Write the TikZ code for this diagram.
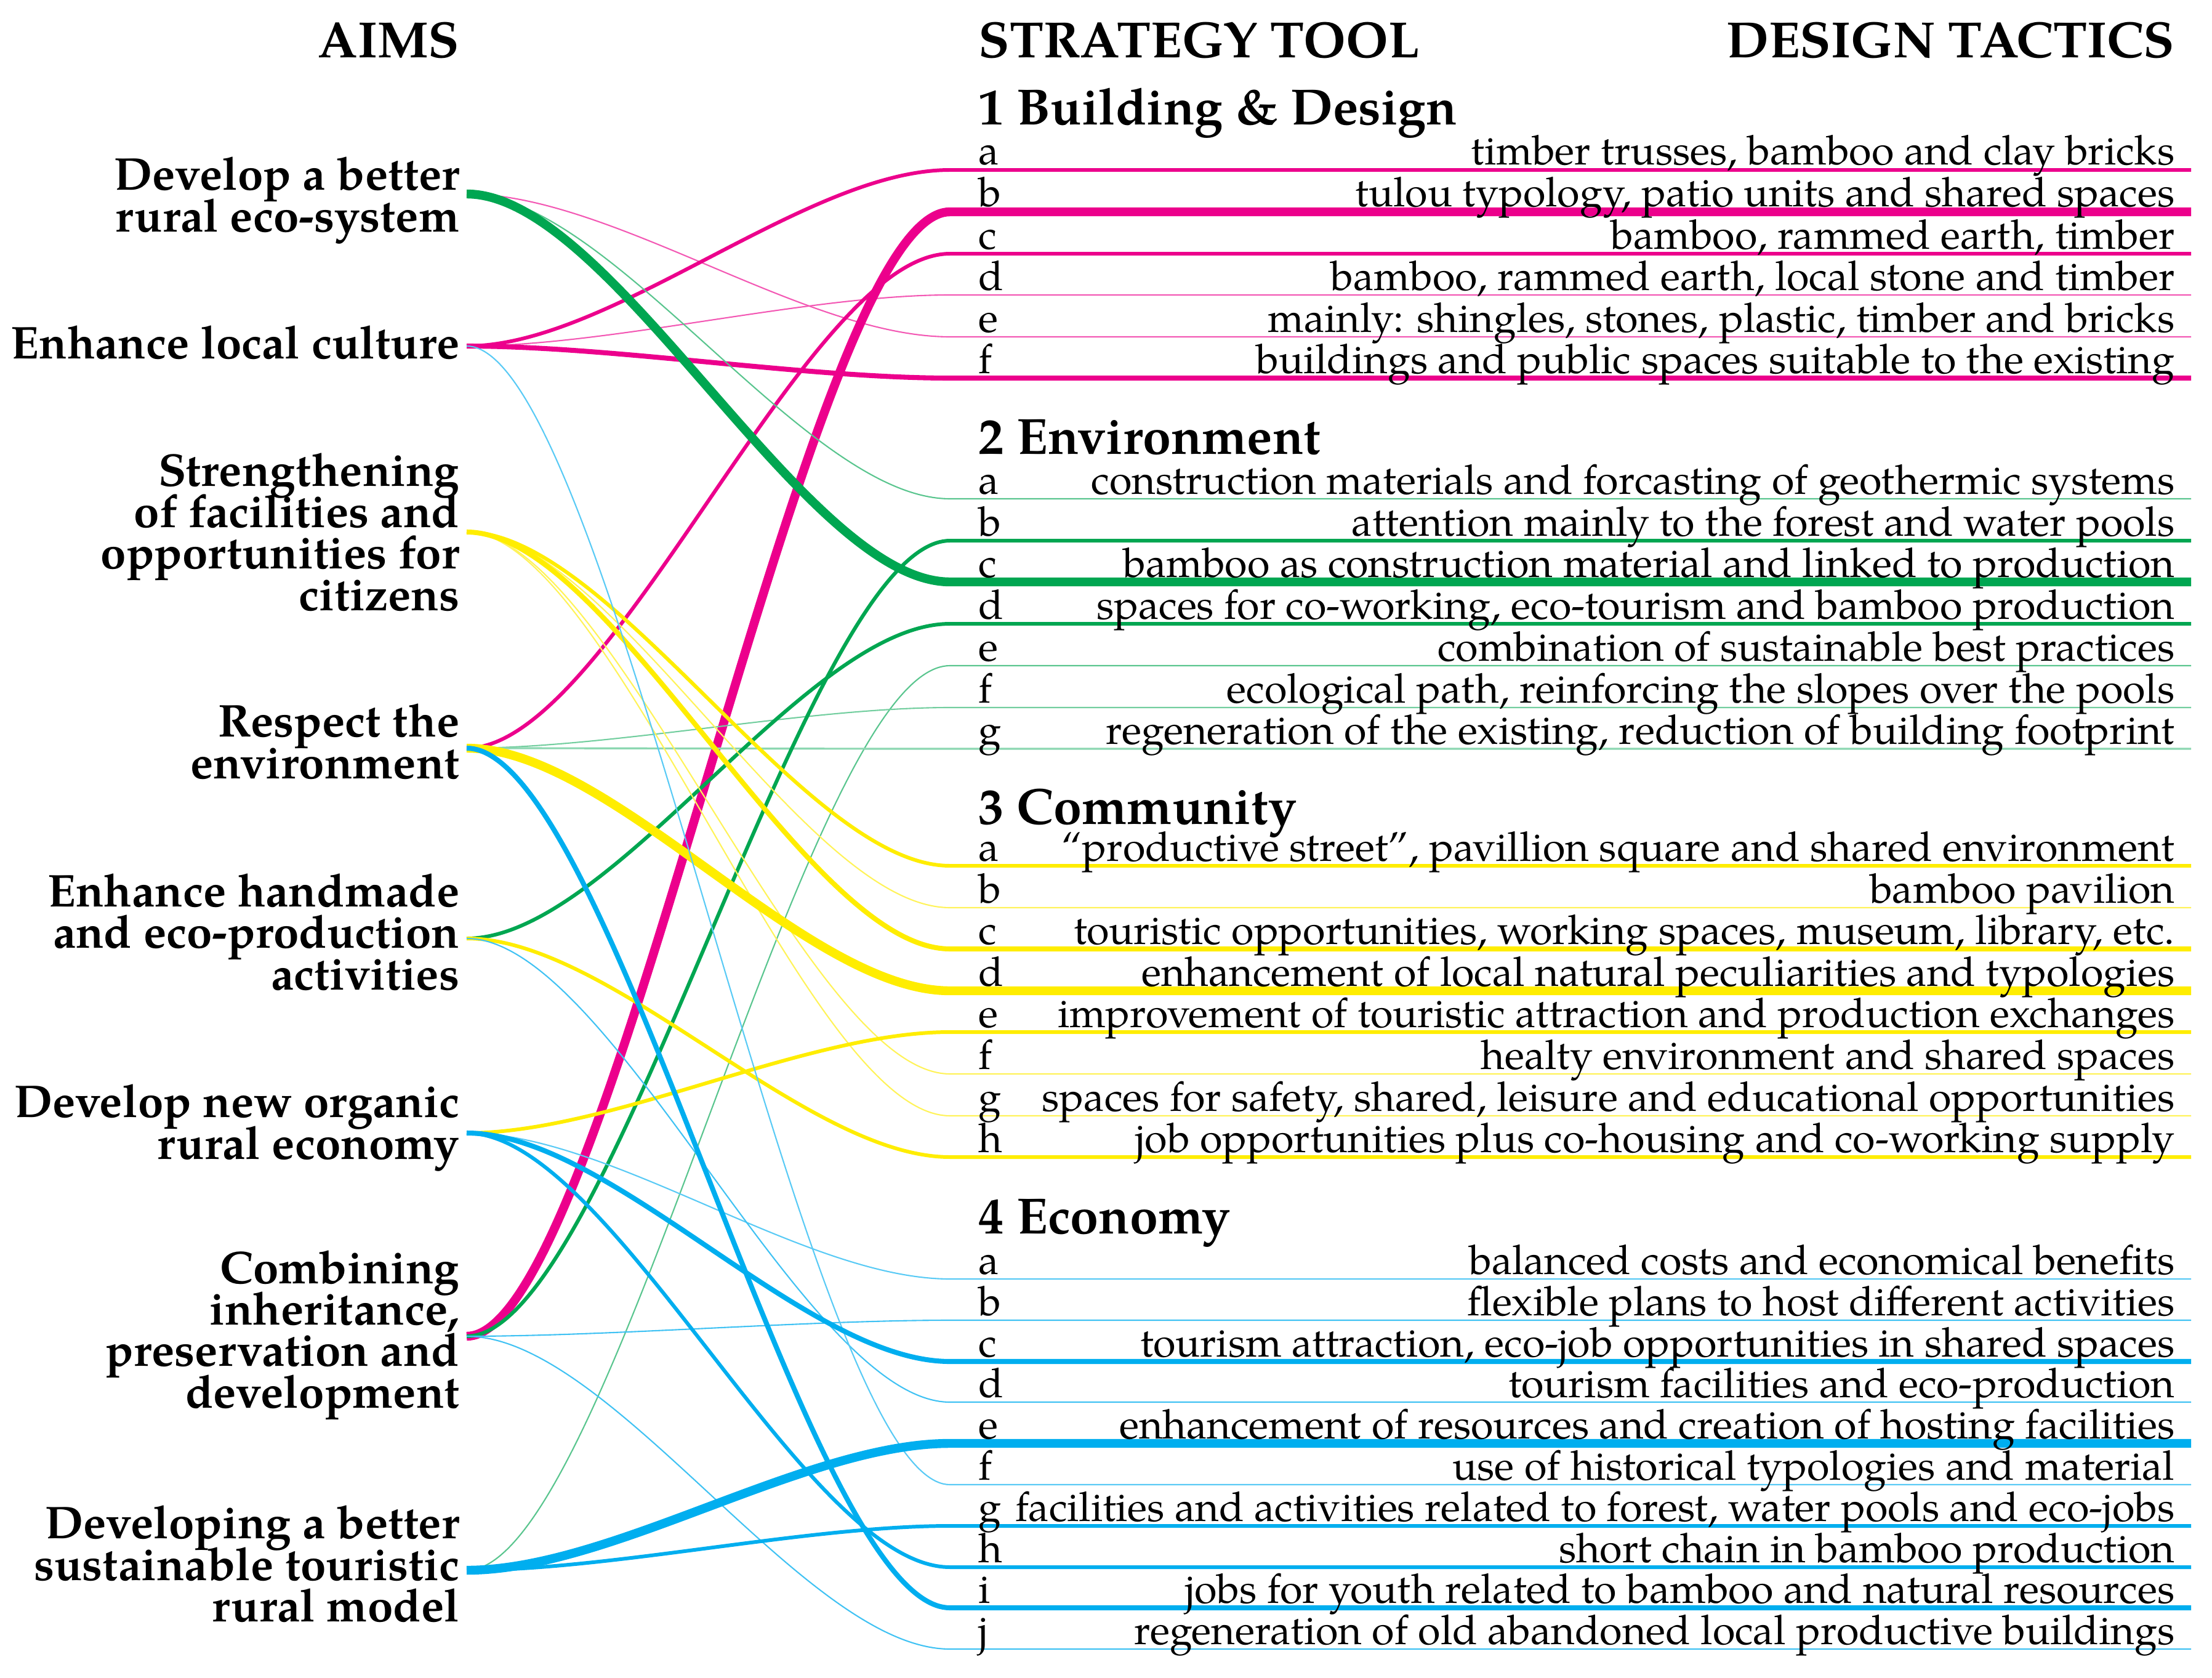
\documentclass[tikz,border=0pt]{standalone}
\usepackage{fontspec}
\setmainfont{TeX Gyre Pagella}
\usepackage{tikz}
\usepackage{color}

\definecolor{pinkc}{RGB}{236,0,140}
\definecolor{greenc}{RGB}{0,166,81}
\definecolor{yellowc}{RGB}{255,237,0}
\definecolor{bluec}{RGB}{0,174,239}

\tikzset{
  aimtext/.style={font={\bfseries\fontsize{21.2}{19.07}\selectfont\lineskiplimit -20pt}, align=right, anchor=base east, inner sep=0pt},
  headtext/.style={font=\bfseries\fontsize{23.5}{28}\selectfont, inner sep=0pt},
  tactext/.style={font=\fontsize{18.9}{19}\selectfont, anchor=base east, inner sep=0pt},
  rowletter/.style={font=\fontsize{18.9}{19}\selectfont, anchor=base west, inner sep=0pt},
  thinlink/.style={line width=0.6pt},
  midlink/.style={line width=1.7pt},
  widelink/.style={line width=2.3pt},
  fatlink/.style={line width=4.1pt}
}

\begin{document}
\begin{tikzpicture}

\useasboundingbox (0,0) rectangle (35.93,-27.25);

\node[headtext, anchor=base east] (aims) at (7.47,-0.94) {AIMS};

\node[headtext, anchor=base west] (tool) at (15.89,-0.94) {STRATEGY TOOL};

\node[headtext, anchor=base east] (tactics) at (35.33,-0.94) {DESIGN TACTICS};

\node[aimtext] (aimtxt1) at (7.47,-3.76) {Develop a better\\rural eco-system};

\node[aimtext] (aimtxt2) at (7.47,-5.82) {Enhance local culture};

\node[aimtext] (aimtxt3) at (7.47,-9.91) {Strengthening\\of facilities and\\opportunities for\\citizens};

\node[aimtext] (aimtxt4) at (7.47,-12.64) {Respect the\\environment};

\node[aimtext] (aimtxt5) at (7.47,-16.07) {Enhance handmade\\and eco-production\\activities};

\node[aimtext] (aimtxt6) at (7.47,-18.82) {Develop new organic\\rural economy};

\node[aimtext] (aimtxt7) at (7.47,-22.86) {Combining\\inheritance,\\preservation and\\development};

\node[aimtext] (aimtxt8) at (7.47,-26.33) {Developing a better\\sustainable touristic\\rural model};

\coordinate (aim1) at (7.58,-3.15);
\coordinate (aim2) at (7.58,-5.62);
\coordinate (aim3) at (7.58,-8.64);
\coordinate (aim4) at (7.58,-12.15);
\coordinate (aim5) at (7.58,-15.24);
\coordinate (aim6) at (7.58,-18.40);
\coordinate (aim7) at (7.58,-21.70);
\coordinate (aim8) at (7.58,-25.50);

\node[headtext, anchor=base west] (sec1) at (15.89,-2.02) {1 Building \& Design};

\coordinate (s1a) at (15.43,-2.76);   \coordinate (e1a) at (35.59,-2.76);
\coordinate (s1b) at (15.43,-3.44);   \coordinate (e1b) at (35.59,-3.44);
\coordinate (s1c) at (15.43,-4.12);   \coordinate (e1c) at (35.59,-4.12);
\coordinate (s1d) at (15.43,-4.79);   \coordinate (e1d) at (35.59,-4.79);
\coordinate (s1e) at (15.43,-5.47);   \coordinate (e1e) at (35.59,-5.47);
\coordinate (s1f) at (15.43,-6.14);   \coordinate (e1f) at (35.59,-6.14);

\draw[pinkc!65, thinlink] (aim2) .. controls +(2.35,0) and +(-2.35,0) .. (s1d) -- (e1d);
\draw[pinkc!65, thinlink] (aim1) .. controls +(2.35,0) and +(-2.35,0) .. (s1e) -- (e1e);
\draw[pinkc, midlink] (aim2) .. controls +(2.35,0) and +(-2.35,0) .. (s1a) -- (e1a);
\draw[pinkc, midlink] (aim4) .. controls +(2.35,0) and +(-2.35,0) .. (s1c) -- (e1c);
\draw[pinkc, widelink] (aim2) .. controls +(2.35,0) and +(-2.35,0) .. (s1f) -- (e1f);
\draw[pinkc, fatlink] (aim7) .. controls +(2.35,0) and +(-2.35,0) .. (s1b) -- (e1b);

\node[rowletter] (l1a) at (15.89,-2.68) {a};
\node[tactext] (t1a) at (35.33,-2.68) {timber trusses, bamboo and clay bricks};
\node[rowletter] (l1b) at (15.89,-3.36) {b};
\node[tactext] (t1b) at (35.33,-3.36) {tulou typology, patio units and shared spaces};
\node[rowletter] (l1c) at (15.89,-4.04) {c};
\node[tactext] (t1c) at (35.33,-4.04) {bamboo, rammed earth, timber};
\node[rowletter] (l1d) at (15.89,-4.71) {d};
\node[tactext] (t1d) at (35.33,-4.71) {bamboo, rammed earth, local stone and timber};
\node[rowletter] (l1e) at (15.89,-5.39) {e};
\node[tactext] (t1e) at (35.33,-5.39) {mainly: shingles, stones, plastic, timber and bricks};
\node[rowletter] (l1f) at (15.89,-6.06) {f};
\node[tactext] (t1f) at (35.33,-6.06) {buildings and public spaces suitable to the existing};

\node[headtext, anchor=base west] (sec2) at (15.89,-7.37) {2 Environment};

\coordinate (s2a) at (15.43,-8.10);   \coordinate (e2a) at (35.59,-8.10);
\coordinate (s2b) at (15.43,-8.78);   \coordinate (e2b) at (35.59,-8.78);
\coordinate (s2c) at (15.43,-9.45);   \coordinate (e2c) at (35.59,-9.45);
\coordinate (s2d) at (15.43,-10.13);  \coordinate (e2d) at (35.59,-10.13);
\coordinate (s2e) at (15.43,-10.81);  \coordinate (e2e) at (35.59,-10.81);
\coordinate (s2f) at (15.43,-11.49);  \coordinate (e2f) at (35.59,-11.49);
\coordinate (s2g) at (15.43,-12.16);  \coordinate (e2g) at (35.59,-12.16);

\draw[greenc!65, thinlink] (aim1) .. controls +(2.35,0) and +(-2.35,0) .. (s2a) -- (e2a);
\draw[greenc!65, thinlink] (aim8) .. controls +(2.35,0) and +(-2.35,0) .. (s2e) -- (e2e);
\draw[greenc!55, thinlink] (aim4) .. controls +(2.35,0) and +(-2.35,0) .. (s2f) -- (e2f);
\draw[greenc!45, line width=0.9pt] (aim4) .. controls +(2.35,0) and +(-2.35,0) .. (s2g) -- (e2g);
\draw[greenc, midlink] (aim7) .. controls +(2.35,0) and +(-2.35,0) .. (s2b) -- (e2b);
\draw[greenc, midlink] (aim5) .. controls +(2.35,0) and +(-2.35,0) .. (s2d) -- (e2d);
\draw[greenc, fatlink] (aim1) .. controls +(2.35,0) and +(-2.35,0) .. (s2c) -- (e2c);

\node[rowletter] (l2a) at (15.89,-8.02) {a};
\node[tactext] (t2a) at (35.33,-8.02) {construction materials and forcasting of geothermic systems};
\node[rowletter] (l2b) at (15.89,-8.70) {b};
\node[tactext] (t2b) at (35.33,-8.70) {attention mainly to the forest and water pools};
\node[rowletter] (l2c) at (15.89,-9.37) {c};
\node[tactext] (t2c) at (35.33,-9.37) {bamboo as construction material and linked to production};
\node[rowletter] (l2d) at (15.89,-10.05) {d};
\node[tactext] (t2d) at (35.33,-10.05) {spaces for co-working, eco-tourism and bamboo production};
\node[rowletter] (l2e) at (15.89,-10.73) {e};
\node[tactext] (t2e) at (35.33,-10.73) {combination of sustainable best practices};
\node[rowletter] (l2f) at (15.89,-11.41) {f};
\node[tactext] (t2f) at (35.33,-11.41) {ecological path, reinforcing the slopes over the pools};
\node[rowletter] (l2g) at (15.89,-12.08) {g};
\node[tactext] (t2g) at (35.33,-12.08) {regeneration of the existing, reduction of building footprint};

\node[headtext, anchor=base west] (sec3) at (15.89,-13.38) {3 Community};

\coordinate (s3a) at (15.43,-14.06);  \coordinate (e3a) at (35.59,-14.06);
\coordinate (s3b) at (15.43,-14.74);  \coordinate (e3b) at (35.59,-14.74);
\coordinate (s3c) at (15.43,-15.41);  \coordinate (e3c) at (35.59,-15.41);
\coordinate (s3d) at (15.43,-16.09);  \coordinate (e3d) at (35.59,-16.09);
\coordinate (s3e) at (15.43,-16.76);  \coordinate (e3e) at (35.59,-16.76);
\coordinate (s3f) at (15.43,-17.44);  \coordinate (e3f) at (35.59,-17.44);
\coordinate (s3g) at (15.43,-18.12);  \coordinate (e3g) at (35.59,-18.12);
\coordinate (s3h) at (15.43,-18.79);  \coordinate (e3h) at (35.59,-18.79);

\draw[yellowc!65, thinlink] (aim3) .. controls +(2.35,0) and +(-2.35,0) .. (s3b) -- (e3b);
\draw[yellowc!65, thinlink] (aim3) .. controls +(2.35,0) and +(-2.35,0) .. (s3f) -- (e3f);
\draw[yellowc!65, thinlink] (aim3) .. controls +(2.35,0) and +(-2.35,0) .. (s3g) -- (e3g);
\draw[yellowc, midlink] (aim3) .. controls +(2.35,0) and +(-2.35,0) .. (s3a) -- (e3a);
\draw[yellowc, widelink] (aim3) .. controls +(2.35,0) and +(-2.35,0) .. (s3c) -- (e3c);
\draw[yellowc, midlink] (aim6) .. controls +(2.35,0) and +(-2.35,0) .. (s3e) -- (e3e);
\draw[yellowc, midlink] (aim5) .. controls +(2.35,0) and +(-2.35,0) .. (s3h) -- (e3h);
\draw[yellowc, fatlink] (aim4) .. controls +(2.35,0) and +(-2.35,0) .. (s3d) -- (e3d);

\node[rowletter] (l3a) at (15.89,-13.98) {a};
\node[tactext] (t3a) at (35.33,-13.98) {“productive street”, pavillion square and shared environment};
\node[rowletter] (l3b) at (15.89,-14.66) {b};
\node[tactext] (t3b) at (35.33,-14.66) {bamboo pavilion};
\node[rowletter] (l3c) at (15.89,-15.33) {c};
\node[tactext] (t3c) at (35.33,-15.33) {touristic opportunities, working spaces, museum, library, etc.};
\node[rowletter] (l3d) at (15.89,-16.01) {d};
\node[tactext] (t3d) at (35.33,-16.01) {enhancement of local natural peculiarities and typologies};
\node[rowletter] (l3e) at (15.89,-16.68) {e};
\node[tactext] (t3e) at (35.33,-16.68) {improvement of touristic attraction and production exchanges};
\node[rowletter] (l3f) at (15.89,-17.36) {f};
\node[tactext] (t3f) at (35.33,-17.36) {healty environment and shared spaces};
\node[rowletter] (l3g) at (15.89,-18.04) {g};
\node[tactext] (t3g) at (35.33,-18.04) {spaces for safety, shared, leisure and educational opportunities};
\node[rowletter] (l3h) at (15.89,-18.71) {h};
\node[tactext] (t3h) at (35.33,-18.71) {job opportunities plus co-housing and co-working supply};

\node[headtext, anchor=base west] (sec4) at (15.89,-20.03) {4 Economy};

\coordinate (s4a) at (15.43,-20.77);  \coordinate (e4a) at (35.59,-20.77);
\coordinate (s4b) at (15.43,-21.44);  \coordinate (e4b) at (35.59,-21.44);
\coordinate (s4c) at (15.43,-22.11);  \coordinate (e4c) at (35.59,-22.11);
\coordinate (s4d) at (15.43,-22.77);  \coordinate (e4d) at (35.59,-22.77);
\coordinate (s4e) at (15.43,-23.44);  \coordinate (e4e) at (35.59,-23.44);
\coordinate (s4f) at (15.43,-24.11);  \coordinate (e4f) at (35.59,-24.11);
\coordinate (s4g) at (15.43,-24.78);  \coordinate (e4g) at (35.59,-24.78);
\coordinate (s4h) at (15.43,-25.45);  \coordinate (e4h) at (35.59,-25.45);
\coordinate (s4i) at (15.43,-26.11);  \coordinate (e4i) at (35.59,-26.11);
\coordinate (s4j) at (15.43,-26.78);  \coordinate (e4j) at (35.59,-26.78);

\draw[bluec!65, thinlink] (aim6) .. controls +(2.35,0) and +(-2.35,0) .. (s4a) -- (e4a);
\draw[bluec!75, thinlink] (aim7) .. controls +(2.35,0) and +(-2.35,0) .. (s4b) -- (e4b);
\draw[bluec!75, thinlink] (aim5) .. controls +(2.35,0) and +(-2.35,0) .. (s4d) -- (e4d);
\draw[bluec!65, thinlink] (aim2) .. controls +(2.35,0) and +(-2.35,0) .. (s4f) -- (e4f);
\draw[bluec!75, thinlink] (aim7) .. controls +(2.35,0) and +(-2.35,0) .. (s4j) -- (e4j);
\draw[bluec, midlink] (aim8) .. controls +(2.35,0) and +(-2.35,0) .. (s4g) -- (e4g);
\draw[bluec, midlink] (aim6) .. controls +(2.35,0) and +(-2.35,0) .. (s4h) -- (e4h);
\draw[bluec, widelink] (aim6) .. controls +(2.35,0) and +(-2.35,0) .. (s4c) -- (e4c);
\draw[bluec, widelink] (aim4) .. controls +(2.35,0) and +(-2.35,0) .. (s4i) -- (e4i);
\draw[bluec, fatlink] (aim8) .. controls +(2.35,0) and +(-2.35,0) .. (s4e) -- (e4e);

\node[rowletter] (l4a) at (15.89,-20.69) {a};
\node[tactext] (t4a) at (35.33,-20.69) {balanced costs and economical benefits};
\node[rowletter] (l4b) at (15.89,-21.36) {b};
\node[tactext] (t4b) at (35.33,-21.36) {flexible plans to host different activities};
\node[rowletter] (l4c) at (15.89,-22.03) {c};
\node[tactext] (t4c) at (35.33,-22.03) {tourism attraction, eco-job opportunities in shared spaces};
\node[rowletter] (l4d) at (15.89,-22.69) {d};
\node[tactext] (t4d) at (35.33,-22.69) {tourism facilities and eco-production};
\node[rowletter] (l4e) at (15.89,-23.36) {e};
\node[tactext] (t4e) at (35.33,-23.36) {enhancement of resources and creation of hosting facilities};
\node[rowletter] (l4f) at (15.89,-24.03) {f};
\node[tactext] (t4f) at (35.33,-24.03) {use of historical typologies and material};
\node[rowletter] (l4g) at (15.89,-24.70) {g};
\node[tactext] (t4g) at (35.33,-24.70) {facilities and activities related to forest, water pools and eco-jobs};
\node[rowletter] (l4h) at (15.89,-25.37) {h};
\node[tactext] (t4h) at (35.33,-25.37) {short chain in bamboo production};
\node[rowletter] (l4i) at (15.89,-26.03) {i};
\node[tactext] (t4i) at (35.33,-26.03) {jobs for youth related to bamboo and natural resources};
\node[rowletter] (l4j) at (15.89,-26.70) {j};
\node[tactext] (t4j) at (35.33,-26.70) {regeneration of old abandoned local productive buildings};

\end{tikzpicture}
\end{document}
